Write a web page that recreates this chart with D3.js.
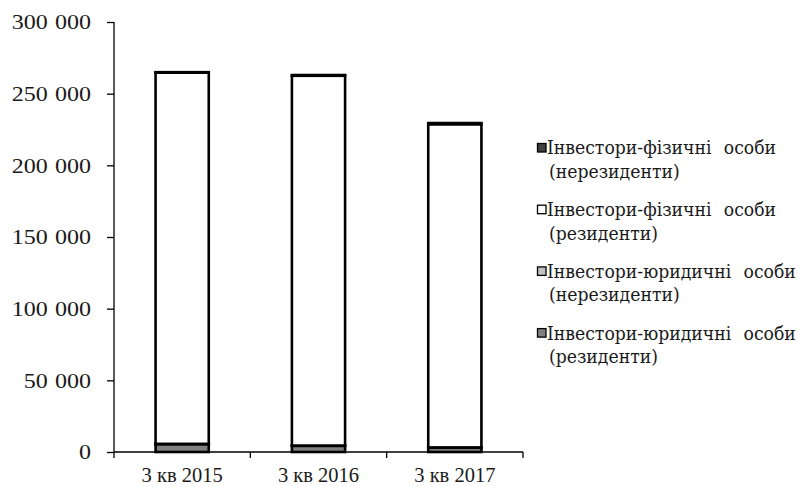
<!DOCTYPE html>
<html>
<head>
<meta charset="utf-8">
<script src="https://cdn.jsdelivr.net/npm/d3@7"></script>
<style>
  html, body { margin: 0; padding: 0; background: #fff; }
  svg { display: block; }
  text { font-family: "Liberation Serif", "DejaVu Serif", serif; fill: #1a1a1a; }
</style>
</head>
<body>
<svg id="chart" width="798" height="487"></svg>
<script>
// Quarters on the x axis
const categories = ["3 кв 2015", "3 кв 2016", "3 кв 2017"];

// Number of investors by group, stacked from the bottom up
const legalResidents     = [5500, 4300, 3000];
const legalNonResidents  = [200, 200, 200];
const naturalResidents   = [259000, 258000, 225500];
const naturalNonResidents= [300, 500, 800];

const yTicks = [0, 50000, 100000, 150000, 200000, 250000, 300000];

const seriesNames = [
  ["Інвестори-юридичні особи", "(резиденти)"],
  ["Інвестори-юридичні особи", "(нерезиденти)"],
  ["Інвестори-фізичні особи", "(резиденти)"],
  ["Інвестори-фізичні особи", "(нерезиденти)"]
];
const seriesColors = ["#808080", "#c0c0c0", "#ffffff", "#404040"];
const seriesValues = [legalResidents, legalNonResidents, naturalResidents, naturalNonResidents];

const serif = "'Liberation Serif', 'DejaVu Serif', serif";
const legendFont = "'DejaVu Serif', serif";
const svg = d3.select("#chart");
const plotLeft = 114, plotRight = 523, plotTop = 22, plotBottom = 452;

const x = d3.scaleBand().domain(categories).range([plotLeft, plotRight])
  .paddingInner(0.61).paddingOuter(0.305);
const y = d3.scaleLinear().domain([0, 300000]).range([plotBottom, plotTop]);

// stacked data
const rows = categories.map((c, i) => {
  const r = { cat: c };
  seriesValues.forEach((s, k) => r["s" + k] = s[i]);
  return r;
});
const keys = seriesValues.map((_, k) => "s" + k);
const stacked = d3.stack().keys(keys)(rows);

// y axis
const fmt = v => d3.format(",")(v).replace(/,/g, " ");
const yAxis = svg.append("g").attr("transform", `translate(${plotLeft},0)`)
  .call(d3.axisLeft(y).tickValues(yTicks).tickSize(7).tickPadding(16).tickFormat(fmt));
yAxis.select(".domain").attr("stroke", "#000").attr("stroke-width", 1.3)
  .attr("d", `M0,${plotTop}V${plotBottom + 6}`);
yAxis.selectAll(".tick line").attr("stroke", "#000").attr("stroke-width", 1.3);
yAxis.selectAll(".tick text")
  .attr("font-size", 20)
  .attr("font-family", null)
  .style("font-family", serif)
  .attr("transform", "scale(1.2,1)")
  .attr("x", -23 / 1.2)
  .attr("dy", "0.34em")
  .style("word-spacing", "1px");

// x axis: ticks at band boundaries
const xg = svg.append("g");
xg.append("line").attr("x1", plotLeft).attr("x2", plotRight).attr("y1", plotBottom).attr("y2", plotBottom)
  .attr("stroke", "#000").attr("stroke-width", 1.3);
const bounds = categories.map(c => x(c) - x.step() * x.paddingInner() / 2 + x.step());
xg.selectAll(".xt").data(bounds).join("line")
  .attr("x1", d => d).attr("x2", d => d).attr("y1", plotBottom).attr("y2", plotBottom + 6)
  .attr("stroke", "#000").attr("stroke-width", 1.3);
xg.selectAll(".xl").data(categories).join("text")
  .attr("x", d => x(d) + x.bandwidth() / 2)
  .attr("y", 482)
  .attr("text-anchor", "middle")
  .style("font-family", serif)
  .attr("font-size", 20.5)
  .text(d => d);

// bars
const layers = svg.append("g").selectAll("g").data(stacked).join("g")
  .attr("fill", (d, i) => seriesColors[i]);
layers.selectAll("rect").data(d => d).join("rect")
  .attr("x", d => x(d.data.cat))
  .attr("width", x.bandwidth())
  .attr("y", d => y(d[1]))
  .attr("height", d => y(d[0]) - y(d[1]))
  .attr("stroke", "#000")
  .attr("stroke-width", 2.6);

// legend (reverse order: top item is the top of the stack)
const legend = svg.append("g");
const order = [3, 2, 1, 0];
const sx = 0.97;
order.forEach((k, j) => {
  const gy = 148 + j * 61.7;
  const g = legend.append("g").attr("transform", `translate(537,${gy})`);
  g.append("rect").attr("x", 0.5).attr("y", -4.5).attr("width", 8.5).attr("height", 8.5)
    .attr("fill", seriesColors[k]).attr("stroke", "#000").attr("stroke-width", 1.3);
  const t = g.append("g").attr("transform", `scale(${sx},1)`);
  t.append("text").attr("x", 10 / sx).attr("y", 0).attr("dy", "0.36em")
    .style("font-family", legendFont)
    .attr("font-size", 17.8).style("word-spacing", "7px")
    .text(seriesNames[k][0]);
  t.append("text").attr("x", 12 / sx).attr("y", 23.5).attr("dy", "0.36em")
    .style("font-family", legendFont)
    .attr("font-size", 17.8)
    .text(seriesNames[k][1]);
});
</script>
</body>
</html>
